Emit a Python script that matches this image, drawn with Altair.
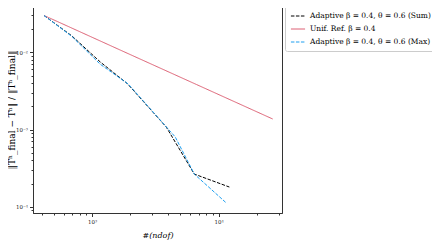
import altair as alt
import pandas as pd

series_names = [
    "Adaptive β = 0.4, θ = 0.6 (Sum)",
    "Unif. Ref. β = 0.4",
    "Adaptive β = 0.4, θ = 0.6 (Max)",
]
series_colors = ["#000000", "#dc5c70", "#1e9ff0"]
series_dash = [[3.5, 1.5], [1, 0], [3.5, 1.5]]

ndof_sum = [418, 695, 1163, 1901, 3865, 6430, 12170]
err_sum = [0.0300, 0.01626, 0.00749, 0.00394, 0.001076, 0.000265, 0.000180]

ndof_unif = [418, 1672, 6688, 26750]
err_unif = [0.0300, 0.0107, 0.00383, 0.00137]

ndof_max = [418, 695, 1163, 1936, 4550, 6430, 11510]
err_max = [0.0300, 0.0160, 0.00700, 0.00388, 0.000800, 0.000265, 0.000112]

x_ticks = [400, 500, 600, 700, 800, 900, 1000, 2000, 3000, 4000, 5000, 6000,
           7000, 8000, 9000, 10000, 20000, 30000]
y_ticks = [9e-5, 1e-4, 2e-4, 3e-4, 4e-4, 5e-4, 6e-4, 7e-4, 8e-4, 9e-4, 1e-3,
           2e-3, 3e-3, 4e-3, 5e-3, 6e-3, 7e-3, 8e-3, 9e-3, 1e-2, 2e-2, 3e-2]

rows = []
for name, xs, ys in zip(series_names, [ndof_sum, ndof_unif, ndof_max],
                        [err_sum, err_unif, err_max]):
    for i, (xv, yv) in enumerate(zip(xs, ys)):
        rows.append({"series": name, "ndof": xv, "err": yv, "order": i})
df = pd.DataFrame(rows)

major_test = "abs(log(datum.value)/LN10 - round(log(datum.value)/LN10)) < 0.001"
sup = ("replace(replace(replace(replace(replace(replace(replace("
       "'' + round(log(datum.value)/LN10), '-', '⁻'), '1', '¹'), '2', '²'),"
       " '3', '³'), '4', '⁴'), '5', '⁵'), '0', '⁰')")
label_expr = f"({major_test}) ? '10' + {sup} : ''"

serif = "DejaVu Serif"

x_axis = alt.Axis(
    values=x_ticks, labelExpr=label_expr, title="#(ndof)",
    titleFont=serif, titleFontStyle="italic", titleFontWeight="normal",
    titleFontSize=8, titlePadding=6,
    labelFont=serif, labelFontSize=5.5, labelPadding=3,
    tickSize={"condition": {"test": major_test, "value": 3.5}, "value": 2},
    tickColor="#333", domainColor="#333", labelColor="#222", grid=False,
)
y_axis = alt.Axis(
    values=y_ticks, labelExpr=label_expr,
    title="‖Tʰ_final − Tʰ‖ / ‖Tʰ_final‖",
    titleFont=serif, titleFontWeight="normal", titleFontSize=9,
    titleX=-17,
    labelFont=serif, labelFontSize=5.5, labelPadding=2,
    tickSize={"condition": {"test": major_test, "value": 3.5}, "value": 2},
    tickColor="#333", domainColor="#333", labelColor="#222", grid=False,
)

chart = alt.Chart(df).mark_line(strokeWidth=1, clip=True).encode(
    x=alt.X("ndof:Q", scale=alt.Scale(type="log", domain=[342, 31700], nice=False),
            axis=x_axis),
    y=alt.Y("err:Q", scale=alt.Scale(type="log", domain=[8.3e-5, 0.0398], nice=False),
            axis=y_axis),
    color=alt.Color("series:N",
                    scale=alt.Scale(domain=series_names, range=series_colors),
                    legend=alt.Legend(
                        title=None, orient="none", legendX=252, legendY=-3,
                        symbolType="stroke", symbolSize=200, symbolStrokeWidth=1,
                        labelFont=serif, labelFontSize=7.5, labelLimit=300,
                        labelOffset=4, rowPadding=1, padding=5,
                        strokeColor="#cccccc", cornerRadius=2, fillColor="white",
                    )),
    strokeDash=alt.StrokeDash("series:N",
                              scale=alt.Scale(domain=series_names, range=series_dash),
                              legend=None),
    order="order:Q",
).properties(
    width=249, height=207,
    autosize=alt.AutoSizeParams(type="none"),
    padding={"left": 25, "top": -2, "right": 150, "bottom": 30},
).configure_view(stroke="#333", strokeWidth=1)

chart.save("out.html", embed_options={"renderer": "svg", "actions": False})
